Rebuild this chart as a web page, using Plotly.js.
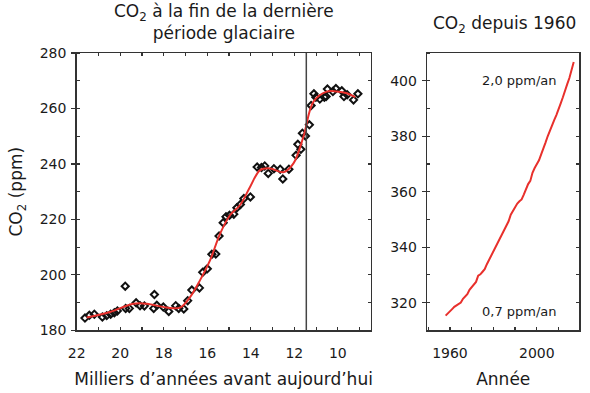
<!DOCTYPE html>
<html>
<head>
<meta charset="utf-8">
<script src="https://cdn.plot.ly/plotly-3.0.1.min.js"></script>
<style>html,body{margin:0;padding:0;background:#fff}#chart{width:590px;height:393px}</style>
</head>
<body>
<div id="chart"></div>
<script>
// Ice-core CO2 at the end of the last glacial period (thousands of years before present)
const glacialAge = [21.62,21.42,21.19,20.82,20.62,20.44,20.27,20.13,19.77,19.75,19.58,19.27,19.09,18.89,18.43,18.46,18.32,18.02,17.77,17.45,17.31,17.08,16.90,16.71,16.36,16.21,16.00,15.79,15.61,15.46,15.27,15.14,14.98,14.78,14.64,14.48,14.32,14.02,13.71,13.51,13.36,13.20,12.94,12.65,12.53,12.25,11.92,11.84,11.70,11.63,11.49,11.31,11.23,11.10,11.01,10.83,10.62,10.54,10.48,10.23,10.09,9.82,9.72,9.57,9.28,9.08];
const glacialCO2 = [184.4,185.4,185.8,184.8,185.3,185.8,186.3,187.0,195.9,187.9,187.9,189.9,188.9,188.8,192.9,187.9,189.0,188.4,186.8,188.9,187.9,187.7,190.7,194.5,195.3,200.9,202.2,207.4,207.5,214.0,218.8,221.0,221.5,221.9,224.2,225.4,227.5,228.1,238.9,238.7,239.3,236.6,238.3,238.1,234.6,238.1,243.1,247.1,245.3,251.1,250.1,254.1,261.1,265.3,264.1,263.4,264.1,264.3,267.0,266.1,267.2,266.4,264.3,265.0,263.1,265.3];
// Smoothed fit (red curve)
const fitAge = [21.54,20.47,19.40,18.78,17.86,17.25,16.79,16.33,15.87,15.41,14.95,14.49,14.03,13.57,13.11,12.50,12.04,11.58,11.12,10.51,10.05,9.59,9.20];
const fitCO2 = [184.6,186.6,189.6,189.6,188.2,188.2,192.0,198.1,205.3,214.9,221.6,225.2,231.8,237.8,238.4,237.0,240.2,249.9,262.5,266.1,266.1,265.5,264.1];
// Vertical marker (thousands of years)
const markerAge = 11.45;
// CO2 since 1960
const years = [1958,1959,1960,1961,1962,1963,1964,1965,1966,1967,1968,1969,1970,1971,1972,1973,1974,1975,1976,1977,1978,1979,1980,1981,1982,1983,1984,1985,1986,1987,1988,1989,1990,1991,1992,1993,1994,1995,1996,1997,1998,1999,2000,2001,2002,2003,2004,2005,2006,2007,2008,2009,2010,2011,2012,2013,2014,2015,2016,2017];
const modernCO2 = [315.3,315.97,316.91,317.64,318.45,318.99,319.62,320.04,321.38,322.16,323.04,324.62,325.68,326.32,327.45,329.68,330.19,331.12,332.03,333.84,335.41,336.84,338.76,340.12,341.48,343.15,344.87,346.35,347.61,349.31,351.69,353.20,354.45,355.70,356.54,357.21,358.96,360.97,362.74,363.88,366.84,368.54,369.71,371.32,373.45,375.98,377.70,379.98,382.09,384.02,385.83,387.64,390.10,391.85,394.06,396.74,398.81,401.01,404.41,406.76];
// Rate labels
const rateLabels = ['2,0 ppm/an','0,7 ppm/an'];
const rateLabelY = [400, 316.8];
const rateLabelX = [1992, 1992];

const RED = '#e8302c';
const AX = '#333333';
const FONT = 'DejaVu Sans, Liberation Sans, sans-serif';
const TXT = '#1a1a1a';

const traces = [
  {x: glacialAge, y: glacialCO2, xaxis:'x', yaxis:'y', type:'scatter', mode:'markers',
   marker:{symbol:'diamond-open', size:5.5, color:'#111', line:{width:2, color:'#111'}}, showlegend:false, hoverinfo:'skip'},
  {x: fitAge, y: fitCO2, xaxis:'x', yaxis:'y', type:'scatter', mode:'lines',
   line:{color:RED, width:2, shape:'spline', smoothing:1}, showlegend:false},
  {x: years, y: modernCO2, xaxis:'x2', yaxis:'y2', type:'scatter', mode:'lines',
   line:{color:RED, width:2}, showlegend:false},
  // dummy traces to create mirror overlay axes
  {x:[null], y:[null], xaxis:'x3', yaxis:'y3', type:'scatter', mode:'markers', showlegend:false, hoverinfo:'skip'},
  {x:[null], y:[null], xaxis:'x4', yaxis:'y4', type:'scatter', mode:'markers', showlegend:false, hoverinfo:'skip'}
];

const yDom = [0.1595, 0.865];
const common = {showgrid:false, zeroline:false, linecolor:AX, linewidth:1.5, tickcolor:AX, tickwidth:1.2,
  tickfont:{family:FONT, size:14, color:TXT}};

const layout = {
  width:590, height:393,
  margin:{l:0, r:0, t:0, b:0},
  paper_bgcolor:'#fff', plot_bgcolor:'#fff',
  font:{family:FONT, color:TXT},
  xaxis: Object.assign({}, common, {domain:[0.130,0.628], anchor:'y', range:[22,8.5],
    tickmode:'linear', tick0:10, dtick:2, ticks:'inside', ticklen:3, ticklabelstandoff:9,
    minor:{dtick:1, ticks:'inside', ticklen:3, tickcolor:AX},
    mirror:true,
    title:{text:'Milliers d’années avant aujourd’hui', font:{family:FONT, size:17, color:TXT}, standoff:13}}),
  yaxis: Object.assign({}, common, {domain:yDom, anchor:'x', range:[180,280],
    tickmode:'linear', tick0:180, dtick:20, ticks:'outside', ticklen:4, ticklabelstandoff:2,
    minor:{dtick:10, ticks:'inside', ticklen:3, tickcolor:AX},
    mirror:true,
    title:{text:'CO<sub>2</sub> (ppm)', font:{family:FONT, size:17, color:TXT}, standoff:12}}),
  xaxis2: Object.assign({}, common, {domain:[0.724,0.982], anchor:'y2', range:[1949.5,2019.6],
    tickmode:'linear', tick0:1960, dtick:40, ticks:'inside', ticklen:3, ticklabelstandoff:9,
    minor:{dtick:10, ticks:'inside', ticklen:3, tickcolor:AX},
    mirror:true,
    title:{text:'Année', font:{family:FONT, size:17, color:TXT}, standoff:13}}),
  yaxis2: Object.assign({}, common, {domain:yDom, anchor:'x2', range:[310,410],
    tickmode:'linear', tick0:320, dtick:20, ticks:'outside', ticklen:4, ticklabelstandoff:2,
    minor:{dtick:10, ticks:'inside', ticklen:3, tickcolor:AX},
    mirror:true}),
  // mirror axes: top ticks on left panel, right ticks on both panels
  xaxis3: {overlaying:'x', anchor:'y', side:'top', range:[22,8.5], showgrid:false, zeroline:false,
    showline:false, showticklabels:false, tickmode:'linear', tick0:10, dtick:1, ticks:'inside', ticklen:3, tickcolor:AX, tickwidth:1.2},
  yaxis3: {overlaying:'y', anchor:'x', side:'right', range:[180,280], showgrid:false, zeroline:false,
    showline:false, showticklabels:false, tickmode:'linear', tick0:180, dtick:10, ticks:'inside', ticklen:3, tickcolor:AX, tickwidth:1.2},
  xaxis4: {overlaying:'x2', anchor:'y2', side:'top', range:[1949.5,2019.6], showgrid:false, zeroline:false,
    showline:false, showticklabels:false, ticks:''},
  yaxis4: {overlaying:'y2', anchor:'x2', side:'right', range:[310,410], showgrid:false, zeroline:false,
    showline:false, showticklabels:false, tickmode:'linear', tick0:310, dtick:10, ticks:'inside', ticklen:3, tickcolor:AX, tickwidth:1.2},
  shapes:[
    {type:'line', xref:'x', yref:'y domain', x0:markerAge, x1:markerAge, y0:0, y1:1, line:{color:'#444', width:1.5}}
  ],
  annotations:[
    {xref:'paper', yref:'paper', x:224/590, y:1-22/393, text:'CO<sub>2</sub> à la fin de la dernière<br>période glaciaire',
     showarrow:false, font:{family:FONT, size:17, color:TXT}, xanchor:'center', yanchor:'middle'},
    {xref:'paper', yref:'paper', x:504/590, y:1-25/393, text:'CO<sub>2</sub> depuis 1960',
     showarrow:false, font:{family:FONT, size:17, color:TXT}, xanchor:'center', yanchor:'middle'},
    {xref:'x2', yref:'y2', x:rateLabelX[0], y:rateLabelY[0], text:rateLabels[0], showarrow:false,
     font:{family:FONT, size:13, color:TXT}, xanchor:'center', yanchor:'middle'},
    {xref:'x2', yref:'y2', x:rateLabelX[1], y:rateLabelY[1], text:rateLabels[1], showarrow:false,
     font:{family:FONT, size:13, color:TXT}, xanchor:'center', yanchor:'middle'}
  ]
};

Plotly.newPlot('chart', traces, layout, {staticPlot:true, displayModeBar:false});
</script>
</body>
</html>
